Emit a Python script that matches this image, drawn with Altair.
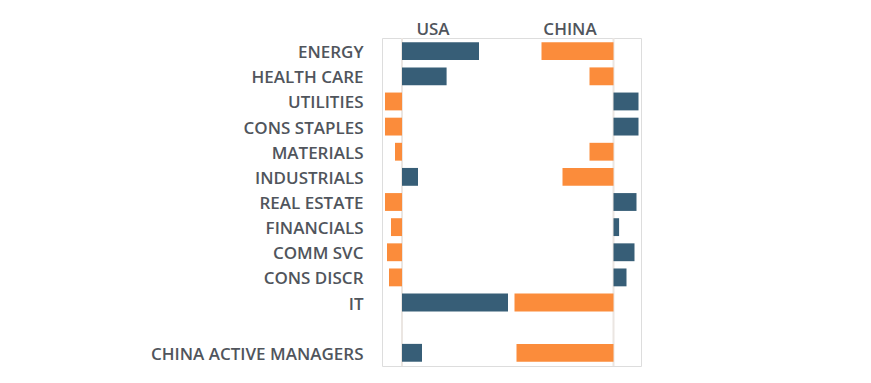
import altair as alt
import pandas as pd

categories = ["ENERGY", "HEALTH CARE", "UTILITIES", "CONS STAPLES", "MATERIALS",
              "INDUSTRIALS", "REAL ESTATE", "FINANCIALS", "COMM SVC", "CONS DISCR",
              "IT", " ", "CHINA ACTIVE MANAGERS"]
usa = [3.85, 2.23, -0.85, -0.85, -0.35, 0.8, -0.85, -0.55, -0.75, -0.65, 5.3, None, 1.0]
china = [-3.6, -1.2, 1.25, 1.25, -1.2, -2.55, 1.15, 0.28, 1.05, 0.65, -4.95, None, -4.85]
panel_titles = ["USA", "CHINA"]

BLUE = "#375e77"
ORANGE = "#fb8c3b"
TEXT = "#50555c"
FONT = "Open Sans"

df = pd.DataFrame({"sector": categories, "usa": usa, "china": china})

y_axis = alt.Axis(title=None, domain=False, ticks=False, tickSize=0, grid=False,
                  labelPadding=19, labelFontSize=17, labelFont=FONT, labelLimit=400,
                  labelColor=TEXT, labelFontWeight=600, labelOffset=2)
y_scale = alt.Scale(domain=categories, paddingInner=0.29, paddingOuter=0.17)

usa_scale = alt.Scale(domain=[-1.0, 11.95], nice=False, zero=False)
china_scale = alt.Scale(domain=[-11.575, 1.375], nice=False, zero=False)

base = alt.Chart(df)

usa_rule = base.mark_rule(color="#ebe6e2", strokeWidth=2).encode(
    x=alt.X("zero:Q", scale=usa_scale, axis=None)
).transform_calculate(zero="0").transform_filter("datum.sector == 'ENERGY'")

usa_bars = base.mark_bar().encode(
    x=alt.X("usa:Q", scale=usa_scale, axis=None),
    y=alt.Y("sector:N", sort=categories, scale=y_scale, axis=y_axis),
    color=alt.condition("datum.usa > 0", alt.value(BLUE), alt.value(ORANGE)),
).transform_filter("isValid(datum.usa)")

china_rule = base.mark_rule(color="#ebe6e2", strokeWidth=2).encode(
    x=alt.X("zero:Q", scale=china_scale, axis=None)
).transform_calculate(zero="0").transform_filter("datum.sector == 'ENERGY'")

china_bars = base.mark_bar().encode(
    x=alt.X("china:Q", scale=china_scale, axis=None),
    y=alt.Y("sector:N", sort=categories, scale=y_scale, axis=y_axis),
    color=alt.condition("datum.china > 0", alt.value(BLUE), alt.value(ORANGE)),
).transform_filter("isValid(datum.china)")

usa_title = alt.Chart(pd.DataFrame({"t": [panel_titles[0]]})).mark_text(
    font=FONT, fontSize=17, fontWeight=600, color=TEXT, align="center", baseline="alphabetic"
).encode(text="t:N", x=alt.value(51), y=alt.value(-3))

china_title = alt.Chart(pd.DataFrame({"t": [panel_titles[1]]})).mark_text(
    font=FONT, fontSize=17, fontWeight=600, color=TEXT, align="center", baseline="alphabetic"
).encode(text="t:N", x=alt.value(188), y=alt.value(-3))

usa_layer = alt.layer(usa_rule, usa_bars)
china_layer = alt.layer(china_rule, china_bars)

chart = alt.layer(usa_layer, china_layer, usa_title, china_title).resolve_scale(
    x="independent"
).properties(
    width=259, height=328,
    autosize=alt.AutoSizeParams(type="none"),
    padding={"left": 374, "top": 30, "right": 10, "bottom": 5},
).configure_view(
    stroke="#aeabaa", strokeWidth=2
).configure(background="white")

chart.save("out.html", embed_options={"renderer": "svg", "actions": False})
